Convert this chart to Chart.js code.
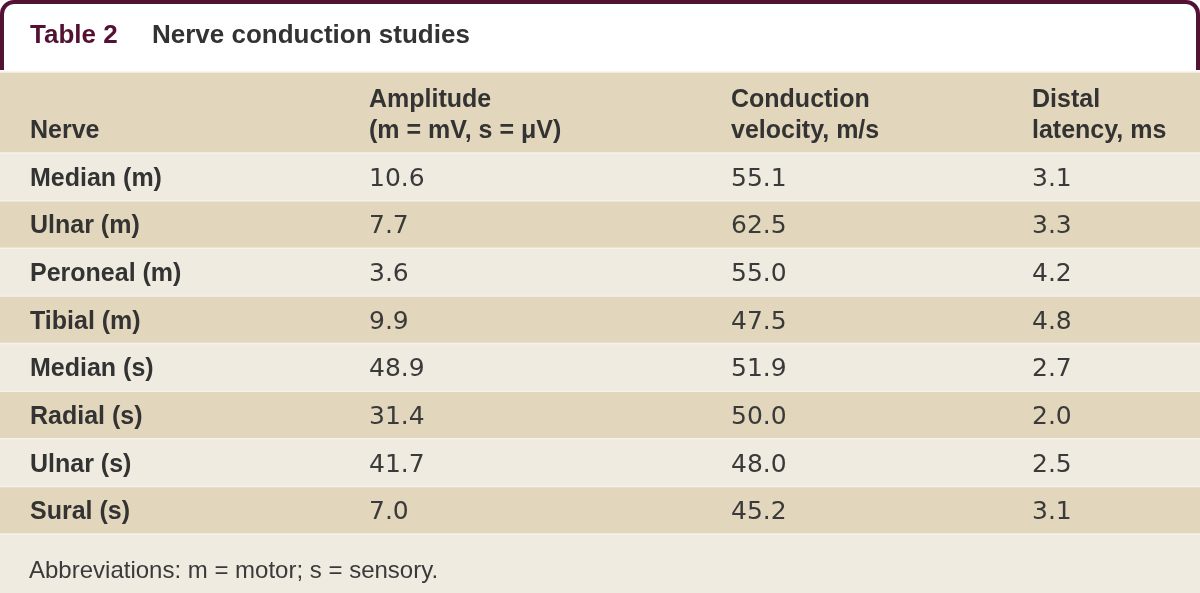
<!DOCTYPE html>
<html><head><meta charset="utf-8">
<script src="https://cdn.jsdelivr.net/npm/chart.js@4/dist/chart.umd.min.js"></script>
<style>html,body{margin:0;padding:0;background:#fff}#wrap{width:1200px;height:593px;position:relative}</style>
</head><body><div id="wrap"><canvas id="c" width="1200" height="593"></canvas></div>
<script>
const tableLabel = 'Table 2';
const tableTitle = 'Nerve conduction studies';
const headers = [['', 'Nerve'], ['Amplitude', '(m = mV, s = \u03BCV)'], ['Conduction', 'velocity, m/s'], ['Distal', 'latency, ms']];
const nerves = ['Median (m)', 'Ulnar (m)', 'Peroneal (m)', 'Tibial (m)', 'Median (s)', 'Radial (s)', 'Ulnar (s)', 'Sural (s)'];
const amplitude = [10.6, 7.7, 3.6, 9.9, 48.9, 31.4, 41.7, 7.0];
const velocity = [55.1, 62.5, 55.0, 47.5, 51.9, 50.0, 48.0, 45.2];
const latency = [3.1, 3.3, 4.2, 4.8, 2.7, 2.0, 2.5, 3.1];
const footnote = 'Abbreviations: m = motor; s = sensory.';

const columnX = [30, 369, 731, 1032];
const TAN = '#e2d6bc', LIGHT = '#efebe0', SEP = '#f6f2ea', MAROON = '#531233', TXT = '#333333', NUM = '#3a3a3a';
const FONT = '"Liberation Sans", Arial, sans-serif';
const NUMFONT = '"DejaVu Sans", sans-serif';

const tablePlugin = {
  id: 'tablePlugin',
  beforeDraw(chart) {
    const ctx = chart.ctx, ca = chart.chartArea;
    ctx.save();
    ctx.fillStyle = '#ffffff';
    ctx.fillRect(0, 0, chart.width, chart.height);
    ctx.fillStyle = TAN;
    ctx.fillRect(0, 72, chart.width, ca.top - 72);
    ctx.fillStyle = LIGHT;
    ctx.fillRect(0, ca.bottom, chart.width, chart.height - ca.bottom);
    ctx.restore();
  },
  afterDatasetsDraw(chart) {
    const ctx = chart.ctx, ca = chart.chartArea;
    const xs = chart.scales.x, ys = chart.scales.y;
    ctx.save();
    ctx.strokeStyle = SEP; ctx.lineWidth = 1.5;
    const n = nerves.length;
    const step = (ca.bottom - ca.top) / n;
    const lines = [72];
    for (let i = 0; i <= n; i++) lines.push(ca.top + i * step);
    lines.forEach(y => { ctx.beginPath(); ctx.moveTo(0, y); ctx.lineTo(chart.width, y); ctx.stroke(); });
    ctx.strokeStyle = MAROON; ctx.lineWidth = 4;
    ctx.beginPath();
    ctx.moveTo(2, 70); ctx.lineTo(2, 14);
    ctx.arcTo(2, 2, 14, 2, 12);
    ctx.lineTo(1186, 2);
    ctx.arcTo(1198, 2, 1198, 14, 12);
    ctx.lineTo(1198, 70);
    ctx.stroke();
    ctx.textBaseline = 'alphabetic'; ctx.textAlign = 'left';
    ctx.font = 'bold 26px ' + FONT;
    ctx.fillStyle = MAROON;
    ctx.fillText(tableLabel, xs.getPixelForValue(columnX[0]), 43);
    ctx.fillStyle = TXT;
    ctx.fillText(tableTitle, xs.getPixelForValue(152), 43);
    ctx.font = 'bold 25px ' + FONT;
    headers.forEach((h, i) => {
      const x = xs.getPixelForValue(columnX[i]);
      if (h[0]) ctx.fillText(h[0], x, 107);
      ctx.fillText(h[1], x, 138);
    });
    nerves.forEach((nm, r) => {
      const y = ys.getPixelForValue(r) + 9;
      ctx.fillStyle = TXT;
      ctx.font = 'bold 25px ' + FONT;
      ctx.fillText(nm, xs.getPixelForValue(columnX[0]), y);
      ctx.fillStyle = NUM;
      ctx.font = '25px ' + NUMFONT;
      ctx.fillText(amplitude[r].toFixed(1), xs.getPixelForValue(columnX[1]), y);
      ctx.fillText(velocity[r].toFixed(1), xs.getPixelForValue(columnX[2]), y);
      ctx.fillText(latency[r].toFixed(1), xs.getPixelForValue(columnX[3]), y);
    });
    ctx.fillStyle = NUM;
    ctx.font = '24px ' + FONT;
    ctx.fillText(footnote, xs.getPixelForValue(columnX[0]) - 1, 578);
    ctx.restore();
  }
};

new Chart(document.getElementById('c'), {
  type: 'bar',
  data: {
    labels: nerves,
    datasets: [{
      data: nerves.map(() => [0, 1200]),
      backgroundColor: nerves.map((_, i) => i % 2 === 0 ? LIGHT : TAN),
      borderWidth: 0,
      barPercentage: 1,
      categoryPercentage: 1
    }]
  },
  options: {
    indexAxis: 'y',
    responsive: false,
    animation: false,
    layout: { padding: { top: 153, bottom: 59, left: 0, right: 0 } },
    plugins: { legend: { display: false }, tooltip: { enabled: false }, title: { display: false } },
    scales: {
      x: { type: 'linear', min: 0, max: 1200, display: false },
      y: { type: 'category', display: false, offset: true }
    }
  },
  plugins: [tablePlugin]
});
</script></body></html>
